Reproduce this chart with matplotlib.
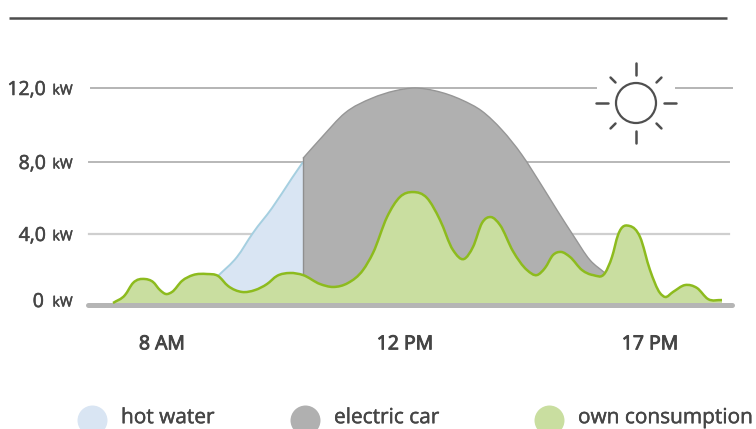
import matplotlib
matplotlib.use("Agg")
import matplotlib.pyplot as plt
import matplotlib.patheffects as pe
import numpy as np
from matplotlib.patches import Circle, PathPatch
from matplotlib.path import Path
from matplotlib.transforms import IdentityTransform

plt.rcParams['font.family'] = ['Open Sans', 'DejaVu Sans']

# x is position along the time axis (the hours in the source are not evenly spaced)
own_x = [113, 125, 133, 145, 153, 160, 166, 172, 182, 193, 207, 218, 228, 242, 255, 267, 277, 290, 303,
         320, 333, 348, 363, 373, 387, 400, 413, 427, 440, 453, 464, 473, 482, 491, 500, 513,
         527, 537, 545, 553, 561, 570, 582, 593, 605, 612, 618, 630, 640, 650, 660, 665, 673, 685,
         697, 708, 722]
own_kw = [0.0, 0.46, 1.16, 1.39, 1.22, 0.75, 0.52, 0.64, 1.28, 1.62, 1.68, 1.57, 0.99, 0.64, 0.75, 1.10, 1.57, 1.74, 1.62,
          1.10, 0.93, 1.16, 1.91, 2.9, 4.94, 6.06, 6.33, 6.0, 4.78, 3.07, 2.55, 3.25, 4.61, 4.94, 4.5, 3.0,
          1.91, 1.62, 2.03, 2.78, 2.96, 2.67, 1.91, 1.62, 1.74, 2.67, 3.94, 4.44, 3.83, 1.91, 0.58, 0.35, 0.64, 1.04,
          0.87, 0.23, 0.17]
car_x = [303, 322, 345, 372, 395, 415, 435, 462, 482, 502, 522, 542, 557, 573, 590, 605]
car_kw = [8.2, 9.35, 10.65, 11.45, 11.85, 12.0, 11.85, 11.35, 10.75, 9.73, 8.38, 6.67, 5.33, 3.94, 2.49, 1.74]
water_x = [218, 237, 253, 272, 292, 303]
water_kw = [1.57, 2.67, 4.06, 5.44, 7.11, 8.0]

y_ticks = [0, 4, 8, 12]
y_labels = ['0', '4,0', '8,0', '12,0']
x_ticks = [162, 405, 650]
x_labels = ['8 AM', '12 PM', '17 PM']
legend_x = [92, 305, 549]
legend_names = ['hot water', 'electric car', 'own consumption']
legend_colors = ['#d9e5f3', '#b0b0b0', '#c9dea0']

TEXT = '#454545'


def curve(x, y):
    # cubic pieces through the read values, slope taken from the neighbours
    x = np.array(x, float)
    y = np.array(y, float)
    slope = np.gradient(y, x)
    verts = [(x[0], y[0])]
    for i in range(len(x) - 1):
        dx = (x[i + 1] - x[i]) / 3
        verts.append((x[i] + dx, y[i] + slope[i] * dx))
        verts.append((x[i + 1] - dx, y[i + 1] - slope[i + 1] * dx))
        verts.append((x[i + 1], y[i + 1]))
    return verts


def draw_area(ax, x, y, fill, edge, lw, z):
    top = curve(x, y)
    verts = [(x[0], 0)] + top + [(x[-1], 0), (x[0], 0)]
    codes = [Path.MOVETO, Path.LINETO] + [Path.CURVE4] * (len(top) - 1) + [Path.LINETO, Path.CLOSEPOLY]
    ax.add_patch(PathPatch(Path(verts, codes), facecolor=fill, edgecolor='none', zorder=z))
    codes = [Path.MOVETO] + [Path.CURVE4] * (len(top) - 1)
    ax.add_patch(PathPatch(Path(top, codes), facecolor='none', edgecolor=edge, lw=lw, zorder=z + 0.1))


def heavy(width):
    return [pe.withStroke(linewidth=width, foreground=TEXT)]


fig = plt.figure(figsize=(7.56, 4.29), dpi=100)
ax = fig.add_axes([0, 0, 1, 1])

# gridlines in the source are not quite evenly spaced
kw_anchor = [-7.3, 0, 4, 8, 12, 16.76]
height_anchor = [0, 126, 195, 267, 341, 429]
ax.set_yscale('function', functions=(lambda v: np.interp(v, kw_anchor, height_anchor),
                                     lambda h: np.interp(h, height_anchor, kw_anchor)))
ax.set_xlim(0, 756)
ax.set_ylim(-7.3, 16.76)
ax.axis('off')

# top rule
ax.plot([9, 727], [15.76, 15.76], color='#4d4d4d', lw=1.8, solid_capstyle='butt')

# grid
ax.plot([91, 596], [12, 12], color='#b4b4b4', lw=1.4, zorder=1)
ax.plot([676, 732], [12, 12], color='#b4b4b4', lw=1.4, zorder=1)
ax.plot([89, 729], [8, 8], color='#b8b8b8', lw=1.4, zorder=1)
ax.plot([89, 729], [4, 4], color='#cfcfcf', lw=1.6, zorder=1)

draw_area(ax, water_x, water_kw, '#d9e5f3', '#a5cfe0', 1.4, 2)
draw_area(ax, car_x, car_kw, '#b0b0b0', '#969696', 1.0, 3)
ax.plot([car_x[0], car_x[0]], [0, car_kw[0]], color='#8f8f8f', lw=1.0, zorder=3.2)
draw_area(ax, own_x, own_kw, '#c9dea0', '#8dbb1e', 1.8, 4)

# axis line at the bottom
ax.plot([88, 732], [-0.14, -0.14], color='#b5b5b5', lw=3.6, solid_capstyle='round', zorder=3.5)

for tick, label in zip(y_ticks, y_labels):
    right = 44 if tick == 0 else 46
    shift = 0.17 if tick == 0 else 0
    ax.text(right, tick + shift, label, ha='right', va='center_baseline', fontsize=14, color=TEXT,
            path_effects=heavy(0.4))
    ax.text(72.5, tick + shift - 0.05, 'kW', ha='right', va='center_baseline', fontsize=10, color=TEXT,
            path_effects=heavy(0.4))

for pos, label in zip(x_ticks, x_labels):
    ax.text(pos, -2.28, label, ha='center', va='center_baseline', fontsize=14, color=TEXT,
            path_effects=heavy(0.7))

# legend
for pos, name, color in zip(legend_x, legend_names, legend_colors):
    ax.scatter([pos], [-6.78], s=466, color=color, linewidths=0)
    ax.text(pos + 29, -6.5, name, ha='left', va='center_baseline', fontsize=15, color=TEXT,
            path_effects=heavy(0.3))

# sun, drawn in pixels
sun_x, sun_y = 636, 429 - 103
ax.add_patch(Circle((sun_x, sun_y), 20, transform=IdentityTransform(), fill=False,
                    edgecolor='#4f4f4f', lw=1.6, zorder=5))
for angle in np.arange(0, 360, 45):
    inner, outer = (28, 40) if angle % 90 == 0 else (29, 36)
    dx, dy = np.cos(np.radians(angle)), np.sin(np.radians(angle))
    ax.plot([sun_x + inner * dx, sun_x + outer * dx], [sun_y + inner * dy, sun_y + outer * dy],
            transform=IdentityTransform(), color='#4f4f4f', lw=1.8, solid_capstyle='round', zorder=5)

fig.savefig('out.png', dpi=100)
